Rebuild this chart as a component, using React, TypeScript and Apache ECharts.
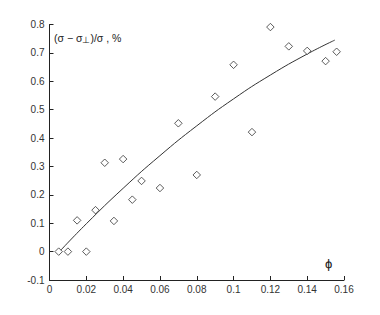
import React, { useEffect, useRef } from "react";
import * as echarts from "echarts";

const pointX = [0.005, 0.01, 0.015, 0.02, 0.025, 0.03, 0.035, 0.04, 0.045, 0.05, 0.06, 0.07, 0.08, 0.09, 0.1, 0.11, 0.12, 0.13, 0.14, 0.15, 0.156];
const pointY = [0, 0, 0.11, 0, 0.146, 0.313, 0.108, 0.326, 0.183, 0.249, 0.224, 0.452, 0.27, 0.546, 0.658, 0.421, 0.791, 0.723, 0.707, 0.671, 0.704];

const curveX = [0.006, 0.02, 0.04, 0.06, 0.08, 0.1, 0.12, 0.14, 0.155];
const curveY = [0.004, 0.098, 0.223, 0.338, 0.443, 0.538, 0.622, 0.696, 0.745];

const xTicks = { min: 0, max: 0.16, interval: 0.02 };
const yTicks = { min: -0.1, max: 0.8, interval: 0.1 };

const font = "Liberation Sans, Arial, sans-serif";

export default function App() {
  const ref = useRef<HTMLDivElement>(null);
  useEffect(() => {
    if (!ref.current) return;
    const chart = echarts.init(ref.current, null, { renderer: "svg" });
    const axisCommon = {
      axisLine: { show: true, onZero: false, lineStyle: { color: "#222", width: 1 } },
      axisTick: { show: true, inside: true, length: 4, lineStyle: { color: "#222" } },
      splitLine: { show: false },
      axisLabel: { color: "#333", fontSize: 10, fontFamily: font },
    };
    chart.setOption({
      animation: false,
      backgroundColor: "#fff",
      grid: { left: 49.5, right: 36, top: 24.5, bottom: 35, containLabel: false },
      xAxis: {
        type: "value",
        ...xTicks,
        ...axisCommon,
        axisLabel: { ...axisCommon.axisLabel, margin: 4, formatter: (v: number) => String(+v.toFixed(2)) },
      },
      yAxis: {
        type: "value",
        ...yTicks,
        ...axisCommon,
        axisLabel: { ...axisCommon.axisLabel, margin: 5, formatter: (v: number) => String(+v.toFixed(1)) },
      },
      series: [
        {
          type: "line",
          data: curveX.map((x, i) => [x, curveY[i]]),
          smooth: true,
          showSymbol: false,
          symbol: "none",
          lineStyle: { color: "#333", width: 1 },
          z: 2,
        },
        {
          type: "scatter",
          data: pointX.map((x, i) => [x, pointY[i]]),
          symbol: "diamond",
          symbolSize: 7.5,
          itemStyle: { color: "#fff", borderColor: "#333", borderWidth: 1 },
          z: 3,
        },
      ],
      graphic: [
        {
          type: "text",
          left: 54,
          top: 32,
          style: {
            text: "(σ − σ{s|⊥})/σ , %",
            fontSize: 10.5,
            fontFamily: font,
            fill: "#222",
            rich: { s: { fontSize: 9, fontFamily: font, fill: "#222", padding: [5, 0, 0, 0] } },
          },
        },
        {
          type: "text",
          left: 325,
          top: 257,
          style: { text: "ϕ", fontSize: 13, fontFamily: font, fill: "#111" },
        },
      ],
    });
    return () => chart.dispose();
  }, []);
  return <div ref={ref} style={{ width: 380, height: 315, position: "absolute", left: 0, top: 0 }} />;
}
